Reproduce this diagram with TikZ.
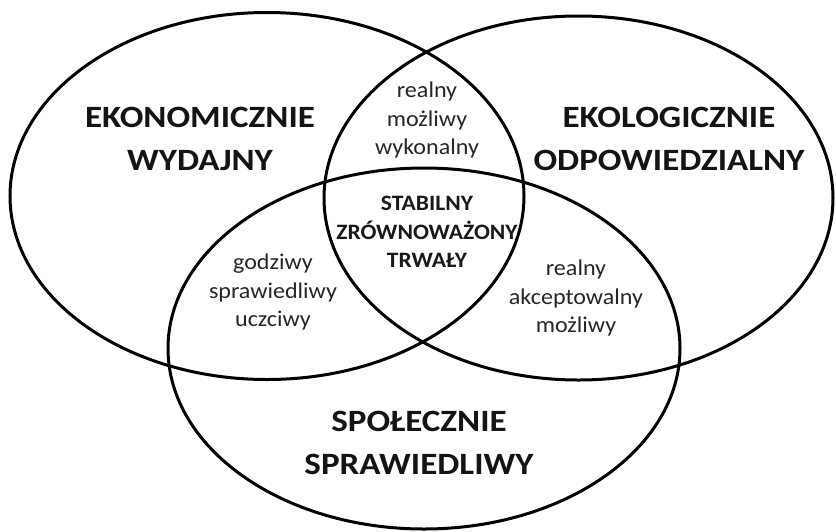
\documentclass[tikz,border=0pt]{standalone}
\usepackage{fontspec}
\setmainfont{Carlito}
\newfontfamily\bigfont[FakeStretch=1.13]{Carlito}
\newfontfamily\smallfont[FakeStretch=1.07]{Carlito}
\usetikzlibrary{shapes.geometric}
\begin{document}
\begin{tikzpicture}[x=1pt,y=-1pt,
  set/.style={ellipse, draw=black, line width=3pt, inner sep=0pt},
  big/.style={font=\bigfont\bfseries\fontsize{31}{42.5}\selectfont, align=center, text=black!92},
  core/.style={font=\smallfont\bfseries\fontsize{22}{28.5}\selectfont, align=center, text=black!90},
  small/.style={font=\smallfont\fontsize{22.5}{28.5}\selectfont, align=center, text=black!85}]
\useasboundingbox (0,0) rectangle (836,531);
\node[set, minimum width=514pt, minimum height=367pt] (eko) at (267,196) {};
\node[set, minimum width=509pt, minimum height=364pt] (eco) at (578.5,198) {};
\node[set, minimum width=512pt, minimum height=361pt] (soc) at (424,348.5) {};
\node[big] (t1) at (200,139) {EKONOMICZNIE\\WYDAJNY};
\node[big] (t2) at (669,139) {EKOLOGICZNIE\\ODPOWIEDZIALNY};
\node[big] (t3) at (419,443) {SPOŁECZNIE\\SPRAWIEDLIWY};
\node[small] (s1) at (427,120) {realny\\możliwy\\wykonalny};
\node[core] (c) at (427,232) {STABILNY\\ZRÓWNOWAŻONY\\TRWAŁY};
\node[small] (s2) at (273,292) {godziwy\\sprawiedliwy\\uczciwy};
\node[small] (s3) at (576,298) {realny\\akceptowalny\\możliwy};
\end{tikzpicture}
\end{document}
